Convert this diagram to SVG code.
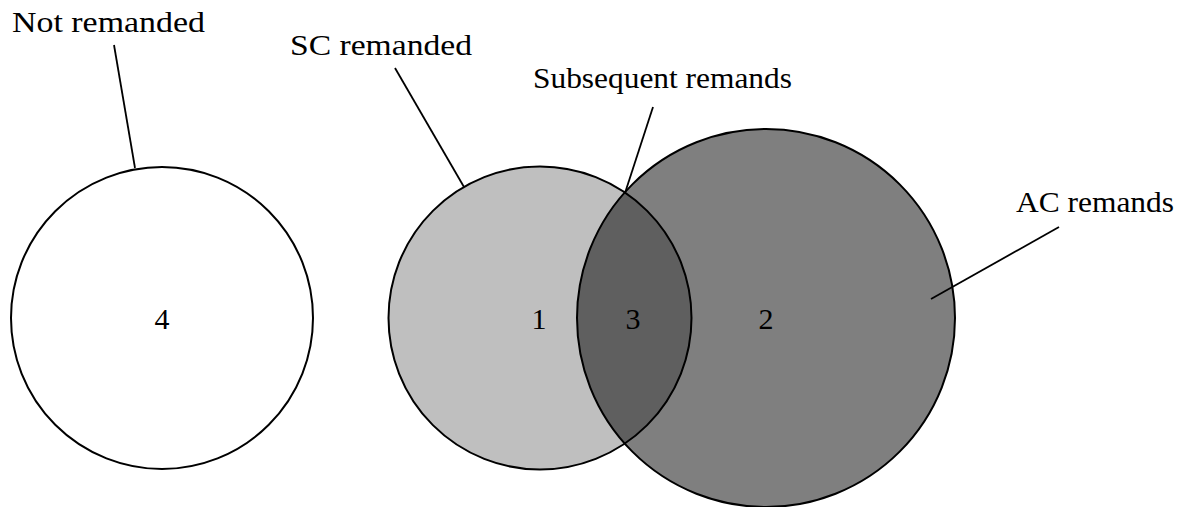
<svg xmlns="http://www.w3.org/2000/svg" width="1191" height="507" viewBox="0 0 1191 507">
<style>
.lbl{font-family:"Liberation Serif","DejaVu Serif",serif;font-size:30px;fill:#000;text-anchor:middle}
.ol{fill:none;stroke:#000;stroke-width:2}
.ln{stroke:#000;stroke-width:1.8;fill:none}
</style>
<rect width="1191" height="507" fill="#fff"/>
<g id="fills">
<circle cx="540" cy="318" r="151.5" fill="#000" fill-opacity="0.25"/>
<circle cx="766" cy="318" r="189" fill="#000" fill-opacity="0.5"/>
</g>
<g id="node-not-remanded">
<circle class="ol" cx="162" cy="318" r="151"/>
<text class="lbl" x="162" y="329">4</text>
</g>
<g id="node-sc-remanded">
<circle class="ol" cx="540" cy="318" r="151.5"/>
<text class="lbl" x="539" y="329">1</text>
</g>
<g id="node-ac-remands">
<circle class="ol" cx="766" cy="318" r="189"/>
<text class="lbl" x="766" y="329">2</text>
</g>
<g id="node-subsequent">
<text class="lbl" x="633" y="329">3</text>
</g>
<g id="labels">
<text class="lbl" x="108.5" y="32" textLength="193" lengthAdjust="spacingAndGlyphs">Not remanded</text>
<text class="lbl" x="381" y="55" textLength="182" lengthAdjust="spacingAndGlyphs">SC remanded</text>
<text class="lbl" x="662.5" y="88" textLength="259" lengthAdjust="spacingAndGlyphs">Subsequent remands</text>
<text class="lbl" x="1095" y="212" textLength="158" lengthAdjust="spacingAndGlyphs">AC remands</text>
</g>
<g id="connectors">
<line class="ln" x1="114" y1="45" x2="135" y2="168"/>
<line class="ln" x1="395" y1="68" x2="464" y2="187"/>
<line class="ln" x1="653" y1="107" x2="625" y2="193"/>
<line class="ln" x1="1059" y1="227" x2="931" y2="299"/>
</g>
</svg>
